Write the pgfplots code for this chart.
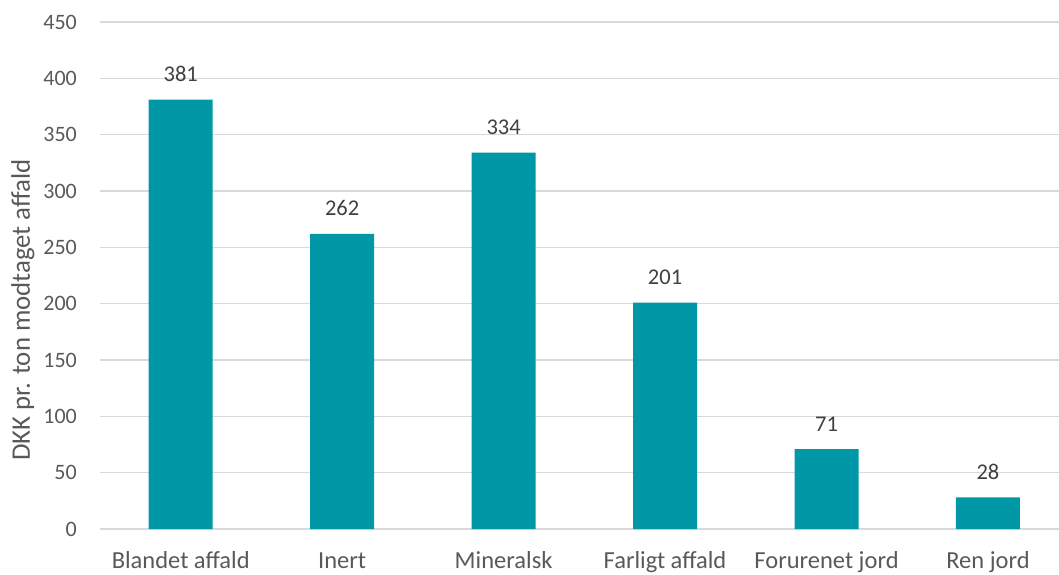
\documentclass[border=0pt]{standalone}
\usepackage{pgfplots}
\pgfplotsset{compat=1.18}
\usepackage{fontspec}
\setmainfont{Carlito}
\definecolor{barcol}{HTML}{0098A7}
\definecolor{txtgray}{HTML}{595959}
\definecolor{lblgray}{HTML}{404040}
\definecolor{gridgray}{HTML}{D9D9D9}
\begin{document}
\begin{tikzpicture}
\begin{axis}[
  at={(0,0)}, anchor=south west,
  scale only axis,
  width=959pt, height=507pt,
  xmin=-0.5, xmax=5.44,
  ymin=0, ymax=450,
  ytick={0,50,...,450},
  xtick={0,1,2,3,4,5},
  xticklabels={Blandet affald,Inert,Mineralsk,Farligt affald,Forurenet jord,Ren jord},
  axis line style={draw=none},
  major tick length=0pt,
  ymajorgrids,
  grid style={gridgray, line width=1.3pt},
  tick label style={font=\fontsize{22}{26}\selectfont, text=txtgray},
  /pgf/number format/assume math mode=true,
  xticklabel style={font=\fontsize{24.5}{28}\selectfont, anchor=base, inner sep=0pt, yshift=-39pt},
  yticklabel style={anchor=east, inner sep=0pt, xshift=-23pt},
  ylabel={DKK pr. ton modtaget affald},
  every axis y label/.style={at={(axis description cs:-0.0803,0.432)}, rotate=90, anchor=center, font=\fontsize{26.8}{30}\selectfont, text=txtgray},
  nodes near coords,
  every node near coord/.append style={font=\fontsize{22.5}{26}\selectfont, text=lblgray, anchor=base, inner sep=0pt, yshift=18pt},
  clip=false,
]
\addplot[ybar, bar width=64pt, fill=barcol, draw=none] coordinates {
  (0,381) (1,262) (2,334) (3,201) (4,71) (5,28)
};
\end{axis}
\pgfresetboundingbox
\path[use as bounding box] (-100pt,-45pt) rectangle (959pt,529pt);
\end{tikzpicture}
\end{document}
